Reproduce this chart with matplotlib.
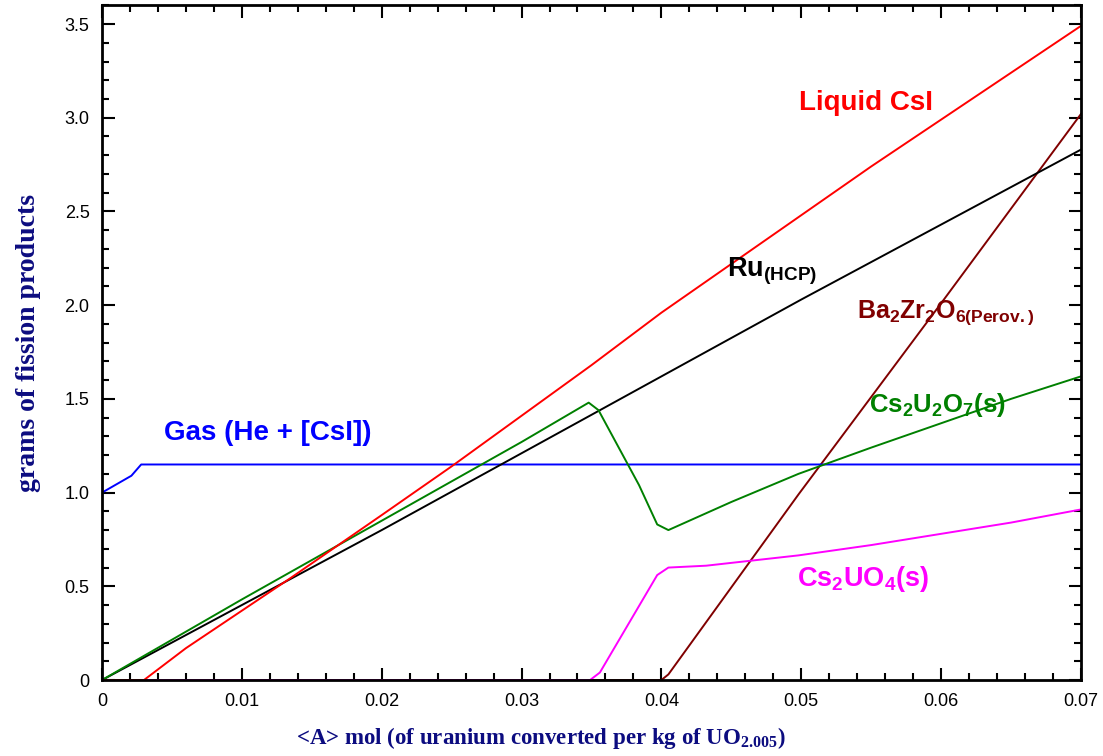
import matplotlib
matplotlib.use('Agg')
import matplotlib.pyplot as plt

plt.rcParams['mathtext.fontset'] = 'custom'
plt.rcParams['mathtext.bf'] = 'Liberation Sans:bold'
plt.rcParams['mathtext.rm'] = 'Liberation Sans:bold'
plt.rcParams['mathtext.sf'] = 'Liberation Serif:bold'

# fission product masses vs converted uranium
x_csi = [0, 0.003, 0.006, 0.0134, 0.02, 0.025, 0.03, 0.035, 0.04, 0.045, 0.05, 0.055, 0.06, 0.065, 0.07]
y_csi = [0, 0, 0.17, 0.54, 0.88, 1.14, 1.41, 1.68, 1.96, 2.22, 2.48, 2.74, 2.99, 3.24, 3.49]

x_ru = [0, 0.01, 0.02, 0.03, 0.04, 0.05, 0.06, 0.07]
y_ru = [0, 0.40, 0.80, 1.21, 1.62, 2.03, 2.43, 2.83]

x_cs2u2o7 = [0, 0.01, 0.02, 0.03, 0.0348, 0.0355, 0.0384, 0.0397, 0.0405, 0.045, 0.0498, 0.055, 0.06, 0.065, 0.07]
y_cs2u2o7 = [0, 0.43, 0.85, 1.27, 1.48, 1.44, 1.04, 0.83, 0.80, 0.95, 1.10, 1.24, 1.37, 1.50, 1.62]

x_gas = [0, 0.0021, 0.0028, 0.07]
y_gas = [1.0, 1.09, 1.15, 1.15]

x_cs2uo4 = [0, 0.0349, 0.0356, 0.0397, 0.0405, 0.0432, 0.0498, 0.055, 0.06, 0.065, 0.07]
y_cs2uo4 = [0, 0, 0.04, 0.56, 0.60, 0.61, 0.665, 0.72, 0.78, 0.84, 0.91]

x_bazro = [0, 0.04, 0.0405, 0.0498, 0.06, 0.07]
y_bazro = [0, 0, 0.03, 0.99, 2.01, 3.02]

xticks = [0, 0.01, 0.02, 0.03, 0.04, 0.05, 0.06, 0.07]
xtick_labels = ['0', '0.01', '0.02', '0.03', '0.04', '0.05', '0.06', '0.07']
yticks = [0, 0.5, 1.0, 1.5, 2.0, 2.5, 3.0, 3.5]
ytick_labels = ['0', '0.5', '1.0', '1.5', '2.0', '2.5', '3.0', '3.5']

navy = '#0c0c80'

fig = plt.figure(figsize=(11.03, 7.56), dpi=100)
ax = fig.add_axes([0.0925, 0.1005, 0.8875, 0.8925])

ax.plot(x_bazro, y_bazro, color='#800000', lw=1.4)
ax.plot(x_cs2uo4, y_cs2uo4, color='#ff00ff', lw=1.4)
ax.plot(x_gas, y_gas, color='#0000ff', lw=1.4)
ax.plot(x_ru, y_ru, color='black', lw=1.4)
ax.plot(x_cs2u2o7, y_cs2u2o7, color='#008000', lw=1.4)
ax.plot(x_csi, y_csi, color='#ff0000', lw=1.4)

fs = 19.5
ax.text(0.0546, 3.08, 'Liquid CsI', color='#ff0000', fontsize=20, fontweight='bold',
        family='Liberation Sans', ha='center', va='center')
ax.text(0.0479, 2.18, r'$\mathbf{Ru}_{\mathbf{(HCP)}}$', color='black', fontsize=fs,
        ha='center', va='center')
ax.text(0.0603, 1.96, r'$\mathbf{Ba_2Zr_2O_{6(Perov{.})}}$', color='#800000', fontsize=18,
        ha='center', va='center')
ax.text(0.0597, 1.47, r'$\mathbf{Cs_2U_2O_7(s)}$', color='#008000', fontsize=18.5,
        ha='center', va='center')
ax.text(0.01187, 1.32, 'Gas (He + [CsI])', color='#0000ff', fontsize=20, fontweight='bold',
        family='Liberation Sans', ha='center', va='center')
ax.text(0.0544, 0.54, r'$\mathbf{Cs_2UO_4(s)}$', color='#ff00ff', fontsize=fs,
        ha='center', va='center')

ax.set_xlim(0, 0.07)
ax.set_ylim(0, 3.6)
ax.set_xticks(xticks)
ax.set_xticklabels(xtick_labels)
ax.set_xticks([i * 0.002 for i in range(36)], minor=True)
ax.set_yticks(yticks)
ax.set_yticklabels(ytick_labels)
ax.set_yticks([i * 0.1 for i in range(37)], minor=True)
ax.tick_params(which='both', direction='in', top=True, right=True,
               labelsize=13, width=1.5)
ax.tick_params(which='major', length=9, pad=9)
ax.tick_params(which='minor', length=5)
for lbl in ax.get_xticklabels() + ax.get_yticklabels():
    lbl.set_family('Liberation Sans')
for s in ax.spines.values():
    s.set_linewidth(2)

ax.set_xlabel(r'<A> mol (of uranium converted per kg of UO$_{\mathsf{2.005}}$)',
              family='Liberation Serif', fontweight='bold', fontsize=16.5, color=navy)
ax.xaxis.set_label_coords(0.448, -0.066)
ax.set_ylabel('grams of fission products', family='Liberation Serif',
              fontweight='bold', fontsize=20, color=navy)
ax.yaxis.set_label_coords(-0.062, 0.5)

fig.savefig('out.png', dpi=100)
